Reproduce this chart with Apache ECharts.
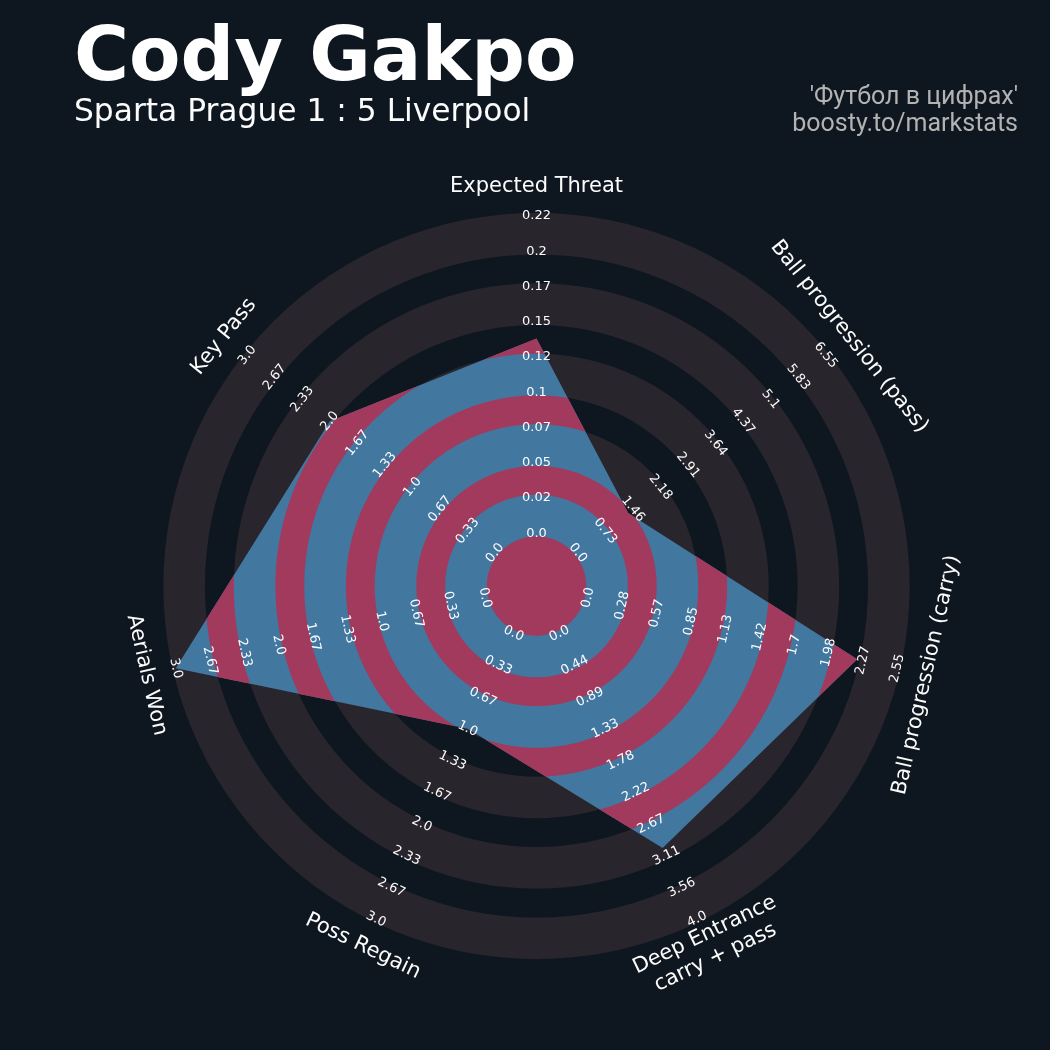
<!DOCTYPE html>
<html><head><meta charset="utf-8">
<script src="https://cdn.jsdelivr.net/npm/echarts@6/dist/echarts.min.js"></script>
<style>html,body{margin:0;padding:0;background:#0e1720;}#chart{width:1050px;height:1050px;}</style>
</head><body><div id="chart"></div>
<script>
// ---------- data ----------
const params = ['Expected Threat', 'Ball progression (pass)', 'Ball progression (carry)',
  'Deep Entrance\ncarry + pass', 'Poss Regain', 'Aerials Won', 'Key Pass'];
const minRange = [0, 0, 0, 0, 0, 0, 0];
const maxRange = [0.22, 6.55, 2.55, 4.0, 3.0, 3.0, 3.0];
const values = [0.135, 1.33, 2.22, 3.0, 1.0, 3.0, 2.0];
const labelsXT = ['0.0', '0.02', '0.05', '0.07', '0.1', '0.12', '0.15', '0.17', '0.2', '0.22'];
const labelsPass = ['0.0', '0.73', '1.46', '2.18', '2.91', '3.64', '4.37', '5.1', '5.83', '6.55'];
const labelsCarry = ['0.0', '0.28', '0.57', '0.85', '1.13', '1.42', '1.7', '1.98', '2.27', '2.55'];
const labelsDeep = ['0.0', '0.44', '0.89', '1.33', '1.78', '2.22', '2.67', '3.11', '3.56', '4.0'];
const labelsThree = ['0.0', '0.33', '0.67', '1.0', '1.33', '1.67', '2.0', '2.33', '2.67', '3.0'];
const rangeLabels = [labelsXT, labelsPass, labelsCarry, labelsDeep, labelsThree, labelsThree, labelsThree];
const titleText = 'Cody Gakpo';
const subtitleText = 'Sparta Prague 1 : 5 Liverpool';
const creditLines = ["'Футбол в цифрах'", 'boosty.to/markstats'];

// ---------- styling / geometry constants ----------
const BG = '#0e1720', RING = '#28252c', BLUE = '#4277a0', RED = '#a23a5e', TXT = '#fcfcfc';
const N = params.length;
const CC = 1.5, NRINGS = 9, EXP = 0.09, LABEL_R = 11.35, AXMAX = 12;

function axisAngle(i) { return i * 360 / N; }
function valueToR(i, v) { return CC + (v - minRange[i]) / (maxRange[i] - minRange[i]) * NRINGS; }
const polyR = values.map((v, i) => valueToR(i, v));

function rho(theta) {
  const seg = 360 / N;
  const i = Math.floor(theta / seg) % N, j = (i + 1) % N;
  const a1 = axisAngle(i) * Math.PI / 180, a2 = axisAngle(j) * Math.PI / 180, t = theta * Math.PI / 180;
  const P = [polyR[i] * Math.sin(a1), polyR[i] * Math.cos(a1)];
  const Q = [polyR[j] * Math.sin(a2), polyR[j] * Math.cos(a2)];
  const E = [Q[0] - P[0], Q[1] - P[1]];
  const d = [Math.sin(t), Math.cos(t)];
  const cr = (a, b) => a[0] * b[1] - a[1] * b[0];
  return cr(P, E) / cr(d, E);
}
const sampleAngles = (function () {
  const s = [];
  for (let a = 0; a <= 360; a += 0.25) s.push(a);
  for (let i = 0; i <= N; i++) s.push(axisAngle(i));
  s.sort((a, b) => a - b);
  return s.filter((a, k) => k === 0 || a - s[k - 1] > 1e-9);
})();

function textRotation(i) {
  let m = 90 - axisAngle(i);
  while (m <= -180) m += 360;
  while (m > 180) m -= 360;
  const rot = (m > 0 && m <= 180) ? m - 90 : m + 90;
  return rot * Math.PI / 180;
}

const greyBands = [0, 1, 2, 3, 4].map(k => [CC + 2 * k - EXP, CC + 2 * k + 1 + EXP]);
const redBands = [[0, CC - EXP]].concat([0, 1, 2, 3].map(k => [CC + 2 * k + 1 + EXP, CC + 2 * k + 2 - EXP]));

const chart = echarts.init(document.getElementById('chart'), null, { renderer: 'canvas' });
const base = { type: 'custom', coordinateSystem: 'polar', data: [[0, 0]], silent: true, animation: false };

chart.setOption({
  backgroundColor: BG,
  animation: false,
  polar: { center: [536.5, 586], radius: 370 * AXMAX / (CC + NRINGS) },
  angleAxis: { type: 'value', min: 0, max: 360, startAngle: 90, clockwise: true, show: false },
  radiusAxis: { type: 'value', min: 0, max: AXMAX, show: false },
  graphic: [
    { type: 'text', x: 74, y: 61, style: { text: titleText, fill: '#ffffff', font: 'bold 75px "DejaVu Sans"', textAlign: 'left', textVerticalAlign: 'middle' } },
    { type: 'text', x: 74, y: 113, style: { text: subtitleText, fill: TXT, font: '31.3px "DejaVu Sans"', textAlign: 'left', textVerticalAlign: 'middle' } },
    { type: 'text', x: 1018, y: 98, style: { text: creditLines[0], fill: '#b3b3b3', font: '25px Roboto', textAlign: 'right', textVerticalAlign: 'middle' } },
    { type: 'text', x: 1018, y: 125, style: { text: creditLines[1], fill: '#b3b3b3', font: '25px Roboto', textAlign: 'right', textVerticalAlign: 'middle' } }
  ],
  series: [
    Object.assign({}, base, { z: 1, renderItem: function (p, api) {
      const c = api.coord([0, 0]);
      return { type: 'group', children: greyBands.map(b => ({
        type: 'sector',
        shape: { cx: c[0], cy: c[1], r0: api.coord([b[0], 0])[2], r: api.coord([b[1], 0])[2], startAngle: 0, endAngle: Math.PI * 2 },
        style: { fill: RING }
      })) };
    } }),
    Object.assign({}, base, { z: 2, renderItem: function (p, api) {
      const pts = polyR.map((r, i) => api.coord([r, axisAngle(i)]).slice(0, 2));
      return { type: 'polygon', shape: { points: pts }, style: { fill: BLUE } };
    } }),
    Object.assign({}, base, { z: 3, renderItem: function (p, api) {
      const children = redBands.map(b => {
        const outer = [], inner = [];
        sampleAngles.forEach(a => {
          const pr = rho(a);
          const ro = pr <= b[0] ? b[0] : Math.min(b[1], pr);
          outer.push(api.coord([ro, a]).slice(0, 2));
          if (b[0] > 0) inner.push(api.coord([b[0], a]).slice(0, 2));
        });
        const pts = outer.concat(inner.reverse());
        return { type: 'polygon', shape: { points: pts }, style: { fill: RED } };
      });
      return { type: 'group', children: children };
    } }),
    Object.assign({}, base, { z: 4, renderItem: function (p, api) {
      const children = [];
      rangeLabels.forEach((labs, i) => {
        const rot = textRotation(i);
        labs.forEach((t, k) => {
          const pt = api.coord([CC + k, axisAngle(i)]);
          children.push({ type: 'text', x: pt[0], y: pt[1], rotation: rot,
            style: { text: t, fill: TXT, font: '13px "DejaVu Sans"', textAlign: 'center', textVerticalAlign: 'middle' } });
        });
      });
      return { type: 'group', children: children };
    } }),
    Object.assign({}, base, { z: 5, renderItem: function (p, api) {
      return { type: 'group', children: params.map((t, i) => {
        const pt = api.coord([LABEL_R, axisAngle(i)]);
        return { type: 'text', x: pt[0], y: pt[1], rotation: textRotation(i),
          style: { text: t, fill: TXT, font: '21px "DejaVu Sans"', lineHeight: 25, textAlign: 'center', textVerticalAlign: 'middle' } };
      }) };
    } })
  ]
});
</script>
</body></html>
